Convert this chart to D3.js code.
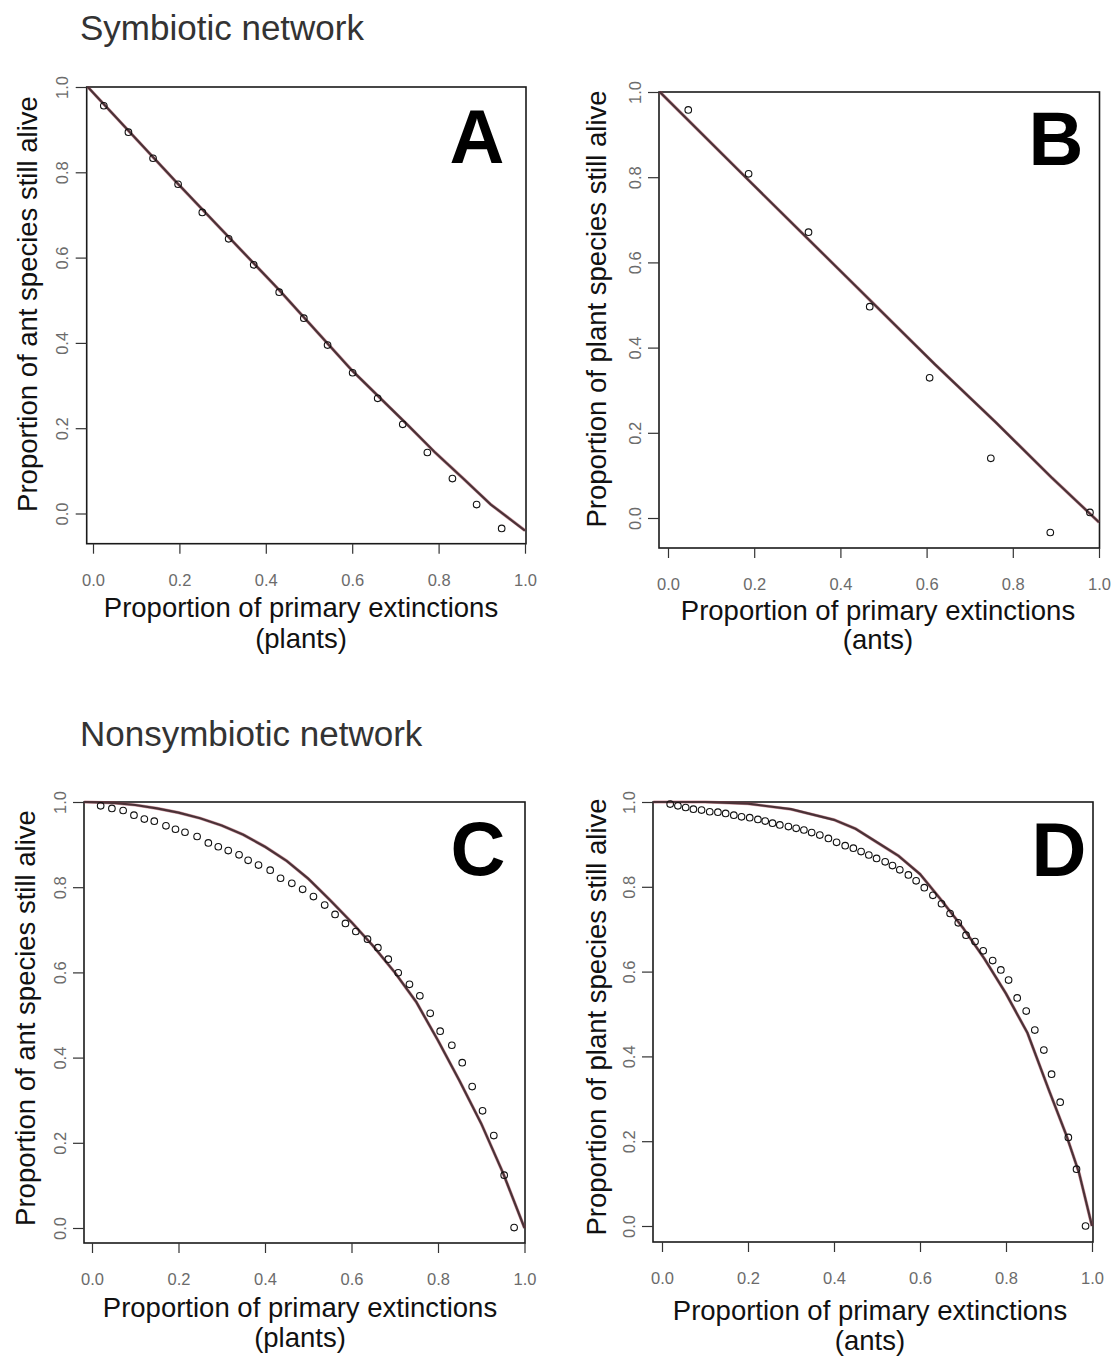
<!DOCTYPE html>
<html lang="en">
<head>
<meta charset="UTF-8" />
<title>Extinction curves: symbiotic vs nonsymbiotic networks</title>
<script src="https://d3js.org/d3.v7.min.js"></script>
<style>
  body { margin: 0; background: #fff; }
  svg { display: block; font-family: "Liberation Sans", Arial, sans-serif; }
  .box { fill: none; stroke: #1a1a1a; stroke-width: 1.6px; }
  .tick line { stroke: #333; stroke-width: 1.2px; }
  .tick text { fill: #6b6b6b; font-size: 16.5px; font-family: "Liberation Sans", Arial, sans-serif; }
  .dot { fill: none; stroke: #111; stroke-width: 1.1px; }
  .curve-red { fill: none; stroke: #a8394c; stroke-width: 3.2px; opacity: 0.5; }
  .curve { fill: none; stroke: #4a3237; stroke-width: 2.2px; }
  .axis-title { font-size: 27.5px; fill: #111; }
  .panel-letter { font-size: 76px; font-weight: bold; fill: #000; }
  .section { font-size: 35px; fill: #333; }
</style>
</head>
<body>
<svg width="1111" height="1358"></svg>
<script>
// ---- data ----
const tickValues = [0, 0.2, 0.4, 0.6, 0.8, 1.0];

// A: symbiotic, plants removed -> ants alive
const aPointsX = [0.025, 0.082, 0.139, 0.197, 0.253, 0.314, 0.372, 0.431, 0.488, 0.543, 0.601, 0.659, 0.717, 0.774, 0.832, 0.888, 0.946];
const aPointsY = [0.956, 0.894, 0.833, 0.772, 0.706, 0.644, 0.583, 0.519, 0.458, 0.395, 0.330, 0.270, 0.209, 0.143, 0.082, 0.021, -0.035];
const aCurveX = [-0.012, 0.19, 0.43, 0.60, 0.727, 0.792, 0.857, 0.921, 1.0];
const aCurveY = [1.0, 0.78, 0.525, 0.335, 0.209, 0.143, 0.082, 0.021, -0.04];

// B: symbiotic, ants removed -> plants alive
const bPointsX = [0.047, 0.187, 0.326, 0.468, 0.607, 0.749, 0.887, 0.979];
const bPointsY = [0.958, 0.808, 0.671, 0.496, 0.329, 0.140, -0.034, 0.013];
const bCurveX = [-0.019, 0.18, 0.47, 0.62, 0.76, 0.89, 1.0];
const bCurveY = [1.0, 0.80, 0.51, 0.36, 0.225, 0.095, -0.01];

// C: nonsymbiotic, plants removed -> ants alive
const cPointsX = [0.020, 0.046, 0.072, 0.097, 0.121, 0.144, 0.171, 0.193, 0.215, 0.243, 0.269, 0.292, 0.315, 0.340, 0.361, 0.385, 0.412, 0.436, 0.462, 0.487,
                  0.512, 0.538, 0.562, 0.586, 0.610, 0.637, 0.661, 0.685, 0.708, 0.734, 0.758, 0.782, 0.805, 0.832, 0.856, 0.879, 0.903, 0.929, 0.953, 0.976];
const cPointsY = [0.991, 0.985, 0.980, 0.969, 0.960, 0.955, 0.944, 0.936, 0.929, 0.919, 0.904, 0.895, 0.886, 0.876, 0.863, 0.852, 0.840, 0.821, 0.809, 0.795,
                  0.778, 0.758, 0.736, 0.715, 0.696, 0.678, 0.658, 0.631, 0.599, 0.572, 0.545, 0.504, 0.462, 0.429, 0.388, 0.332, 0.275, 0.217, 0.124, 0.001];
const cCurveX = [-0.018, 0.05, 0.10, 0.15, 0.20, 0.25, 0.30, 0.35, 0.40, 0.45, 0.50, 0.55, 0.60, 0.65, 0.70, 0.75, 0.80, 0.85, 0.90, 0.95, 1.0];
const cCurveY = [1.0, 0.998, 0.993, 0.985, 0.975, 0.962, 0.945, 0.923, 0.895, 0.862, 0.820, 0.770, 0.718, 0.662, 0.600, 0.530, 0.440, 0.345, 0.245, 0.130, 0.0];

// D: nonsymbiotic, ants removed -> plants alive
const dPointsX = [0.019, 0.037, 0.055, 0.073, 0.092, 0.111, 0.130, 0.148, 0.167, 0.185, 0.204, 0.223, 0.240, 0.257, 0.274, 0.294, 0.312, 0.330, 0.348, 0.367,
                  0.387, 0.406, 0.426, 0.445, 0.463, 0.481, 0.499, 0.519, 0.536, 0.553, 0.573, 0.591, 0.610, 0.630, 0.650, 0.670, 0.689, 0.707, 0.728, 0.747,
                  0.769, 0.788, 0.806, 0.826, 0.847, 0.867, 0.888, 0.906, 0.926, 0.945, 0.964, 0.985];
const dPointsY = [0.995, 0.991, 0.987, 0.983, 0.981, 0.977, 0.976, 0.973, 0.969, 0.965, 0.963, 0.959, 0.955, 0.950, 0.946, 0.942, 0.938, 0.934, 0.928, 0.922,
                  0.914, 0.905, 0.897, 0.891, 0.883, 0.875, 0.867, 0.859, 0.850, 0.840, 0.828, 0.814, 0.798, 0.780, 0.760, 0.737, 0.715, 0.686, 0.671, 0.649,
                  0.626, 0.604, 0.580, 0.538, 0.507, 0.462, 0.415, 0.358, 0.292, 0.209, 0.134, 0.000];
const dCurveX = [-0.02, 0.10, 0.20, 0.30, 0.40, 0.45, 0.50, 0.55, 0.60, 0.65, 0.70, 0.75, 0.80, 0.85, 0.90, 0.94, 0.97, 1.0];
const dCurveY = [1.0, 1.0, 0.996, 0.983, 0.958, 0.937, 0.905, 0.873, 0.830, 0.768, 0.703, 0.630, 0.548, 0.455, 0.320, 0.215, 0.125, 0.0];

const sectionTitles = ["Symbiotic network", "Nonsymbiotic network"];
const xTitle = "Proportion of primary extinctions";

// ---- layout (pixel geometry of each panel) ----
const panels = [
  { letter: "A", px: aPointsX, py: aPointsY, cx: aCurveX, cy: aCurveY,
    x0: 93, x1: 525, y0: 513.5, y1: 87, box: { l: 86.7, r: 526, t: 87, b: 543.7 },
    yTitle: "Proportion of ant species still alive", yTitleX: 37, yTitleY: 304,
    xSub: "(plants)", xTitleX: 301, xTitleY: [617, 648], letterX: 477, letterY: 163 },
  { letter: "B", px: bPointsX, py: bPointsY, cx: bCurveX, cy: bCurveY,
    x0: 668, x1: 1099, y0: 518, y1: 92, box: { l: 659, r: 1099.5, t: 92, b: 548 },
    yTitle: "Proportion of plant species still alive", yTitleX: 606, yTitleY: 309,
    xSub: "(ants)", xTitleX: 878, xTitleY: [620, 649], letterX: 1056, letterY: 165 },
  { letter: "C", px: cPointsX, py: cPointsY, cx: cCurveX, cy: cCurveY,
    x0: 92, x1: 524.5, y0: 1228, y1: 802, box: { l: 84, r: 525, t: 802, b: 1243 },
    yTitle: "Proportion of ant species still alive", yTitleX: 35, yTitleY: 1018,
    xSub: "(plants)", xTitleX: 300, xTitleY: [1317, 1347], letterX: 478, letterY: 875 },
  { letter: "D", px: dPointsX, py: dPointsY, cx: dCurveX, cy: dCurveY,
    x0: 662, x1: 1092, y0: 1226, y1: 802, box: { l: 653, r: 1093, t: 802, b: 1242 },
    yTitle: "Proportion of plant species still alive", yTitleX: 606, yTitleY: 1017,
    xSub: "(ants)", xTitleX: 870, xTitleY: [1320, 1350], letterX: 1059, letterY: 876 }
];

const svg = d3.select("svg");

// section headings
svg.append("text").attr("class", "section").attr("x", 80).attr("y", 40).text(sectionTitles[0]);
svg.append("text").attr("class", "section").attr("x", 80).attr("y", 746).text(sectionTitles[1]);

const fmt = d3.format(".1f");

panels.forEach(p => {
  const g = svg.append("g");

  const x = d3.scaleLinear().domain([0, 1]).range([p.x0, p.x1]);
  const y = d3.scaleLinear().domain([0, 1]).range([p.y0, p.y1]);

  // frame
  g.append("rect")
    .attr("class", "box")
    .attr("x", p.box.l)
    .attr("y", p.box.t)
    .attr("width", p.box.r - p.box.l)
    .attr("height", p.box.b - p.box.t);

  // x axis
  g.append("g")
    .attr("transform", `translate(0,${p.box.b})`)
    .call(d3.axisBottom(x).tickValues(tickValues).tickSize(10).tickFormat(fmt))
    .call(a => a.select(".domain").remove())
    .call(a => a.selectAll(".tick text").attr("y", 42).attr("dy", null));

  // y axis, labels parallel to the axis
  g.append("g")
    .attr("transform", `translate(${p.box.l},0)`)
    .call(d3.axisLeft(y).tickValues(tickValues).tickSize(11).tickFormat(fmt))
    .call(a => a.select(".domain").remove())
    .call(a => a.selectAll(".tick text")
      .attr("x", 0)
      .attr("dy", null)
      .attr("text-anchor", "middle")
      .attr("transform", "translate(-18.5,0) rotate(-90)"));

  // curve (drawn twice: reddish halo + dark line)
  const curve = d3.zip(p.cx, p.cy);
  const line = d3.line().x(d => x(d[0])).y(d => y(d[1]));
  g.append("path").datum(curve).attr("class", "curve-red").attr("d", line);
  g.append("path").datum(curve).attr("class", "curve").attr("d", line);

  // observed points
  g.selectAll(".dot")
    .data(d3.zip(p.px, p.py))
    .join("circle")
    .attr("class", "dot")
    .attr("cx", d => x(d[0]))
    .attr("cy", d => y(d[1]))
    .attr("r", 3.3);

  // panel letter
  g.append("text")
    .attr("class", "panel-letter")
    .attr("x", p.letterX)
    .attr("y", p.letterY)
    .attr("text-anchor", "middle")
    .text(p.letter);

  // axis titles
  g.append("text")
    .attr("class", "axis-title")
    .attr("text-anchor", "middle")
    .attr("x", p.xTitleX)
    .attr("y", p.xTitleY[0])
    .text(xTitle);
  g.append("text")
    .attr("class", "axis-title")
    .attr("text-anchor", "middle")
    .attr("x", p.xTitleX)
    .attr("y", p.xTitleY[1])
    .text(p.xSub);

  g.append("text")
    .attr("class", "axis-title")
    .attr("text-anchor", "middle")
    .attr("transform", `translate(${p.yTitleX},${p.yTitleY}) rotate(-90)`)
    .text(p.yTitle);
});
</script>
</body>
</html>
